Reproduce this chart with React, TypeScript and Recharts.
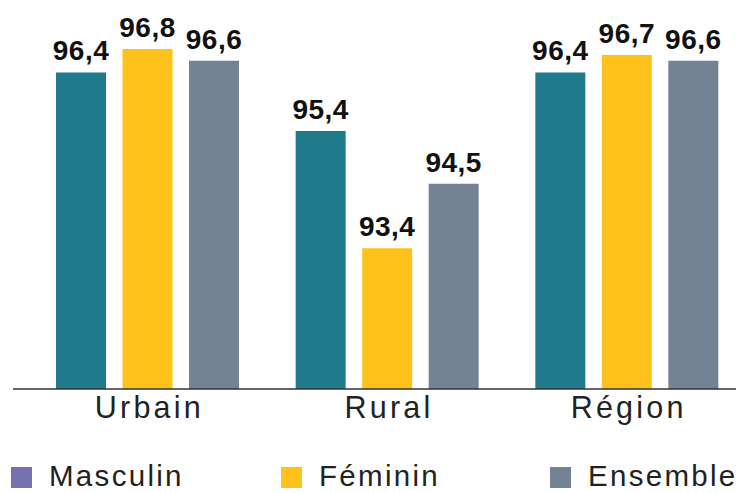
import { BarChart, Bar, XAxis, YAxis, LabelList } from "recharts";

const categories = ["Urbain", "Rural", "Région"];
const masculin = [96.4, 95.4, 96.4];
const feminin = [96.8, 93.4, 96.7];
const ensemble = [96.6, 94.5, 96.6];

const series = [
    { key: "masculin", name: "Masculin", fill: "#1f7b8c", legend: "#7571b0" },
    { key: "feminin", name: "Féminin", fill: "#fec21b", legend: "#fec21b" },
    { key: "ensemble", name: "Ensemble", fill: "#738393", legend: "#738393" },
];

const data = categories.map((cat, i) => ({
    cat,
    masculin: masculin[i],
    feminin: feminin[i],
    ensemble: ensemble[i],
}));

const font = "'Liberation Sans', Arial, sans-serif";

const fmt = (v: any) => String(v).replace(".", ",");

const CategoryTick = (props: any) => {
    const { x, y, payload } = props;
    return (
        <text x={x + 1.5} y={y + 21} textAnchor="middle" fontFamily={font} fontSize={30.5} letterSpacing={3.2} fill="#222">
            {payload.value}
        </text>
    );
};

const legendX = [11, 281, 550];

export default function App() {
    return (
        <div style={{ position: "absolute", left: 0, top: 0, width: 743, height: 493, fontFamily: font }}>
            <BarChart
                width={743}
                height={493}
                data={data}
                margin={{ top: 8, right: 7, left: 13, bottom: 64 }}
                barSize={50}
                barGap={16.5}
            >
                <XAxis
                    dataKey="cat"
                    height={40}
                    tickLine={false}
                    axisLine={{ stroke: "#333", strokeWidth: 1.5 }}
                    tick={<CategoryTick />}
                    padding={{ left: 15, right: -11 }}
                    interval={0}
                />
                <YAxis hide domain={[91, 97.5]} allowDataOverflow />
                {series.map((s) => (
                    <Bar key={s.key} dataKey={s.key} name={s.name} fill={s.fill} isAnimationActive={false}>
                        <LabelList
                            dataKey={s.key}
                            position="top"
                            offset={12}
                            formatter={fmt}
                            fill="#111"
                            fontSize={28}
                            fontWeight="bold"
                            fontFamily={font}
                            letterSpacing={0.5}
                        />
                    </Bar>
                ))}
            </BarChart>
            {series.map((s, i) => (
                <div key={s.key}>
                    <div
                        style={{
                            position: "absolute",
                            left: legendX[i],
                            top: 467,
                            width: 21,
                            height: 21,
                            background: s.legend,
                        }}
                    />
                    <div
                        style={{
                            position: "absolute",
                            left: legendX[i] + 38,
                            top: 460,
                            fontSize: 29.5,
                            letterSpacing: 2.3,
                            color: "#222",
                            lineHeight: 1.1,
                            whiteSpace: "nowrap",
                        }}
                    >
                        {s.name}
                    </div>
                </div>
            ))}
        </div>
    );
}
